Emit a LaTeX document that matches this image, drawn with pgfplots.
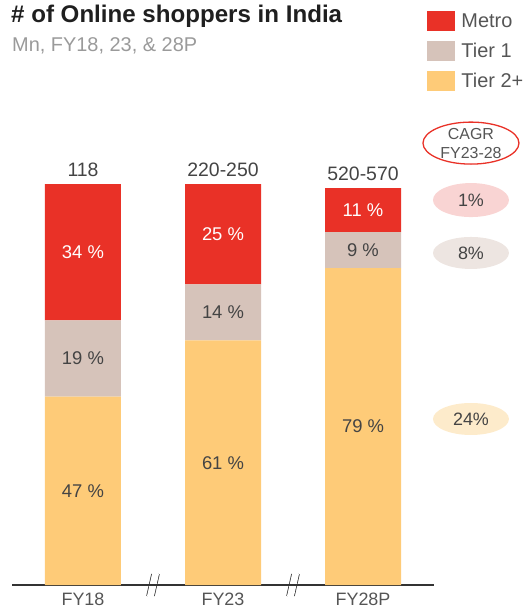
\documentclass[border=0pt]{standalone}
\usepackage{pgfplots}
\pgfplotsset{compat=1.18}
\usepackage{fontspec}
\setmainfont{Liberation Sans}
\definecolor{metro}{HTML}{E93127}
\definecolor{tierone}{HTML}{D6C3BA}
\definecolor{tiertwo}{HTML}{FECB78}
\definecolor{pinkfill}{HTML}{F9D4D3}
\definecolor{grayfill}{HTML}{EDE5E1}
\definecolor{peachfill}{HTML}{FDEBCB}
\definecolor{darktxt}{HTML}{444444}
\definecolor{midtxt}{HTML}{555555}
\definecolor{lighttxt}{HTML}{9A9A9A}
\definecolor{axisline}{HTML}{333333}
\newcommand{\fs}[1]{\fontsize{#1}{#1}\selectfont}
\begin{document}
\begin{tikzpicture}[x=1bp,y=1bp]
\useasboundingbox (0,0) rectangle (524,-611);
\node[anchor=north west, inner sep=0pt, font=\fs{24.2}\bfseries, text=black!88] at (11,-5) {\# of Online shoppers in India};
\node[anchor=north west, inner sep=0pt, font=\fs{20}, text=lighttxt] at (12,-37) {Mn, FY18, 23, \& 28P};
\begin{axis}[
  at={(12bp,-585bp)}, anchor=south west,
  scale only axis, width=422bp, height=401bp,
  xmin=-0.507, xmax=2.507, ymin=0, ymax=100,
  ybar stacked, bar width=76bp,
  clip=false,
  axis x line*=bottom, hide y axis,
  x axis line style={draw=none},
  xtick={0,1,2}, xticklabels={FY18,FY23,FY28P},
  major tick length=0pt,
  xticklabel style={font=\fs{18}, text=midtxt, yshift=-6.5bp, inner sep=1bp},
  legend style={at={(0.984,1.432)}, anchor=north west, draw=none, fill=none,
    font=\fs{20}, text=midtxt, row sep=10bp, inner sep=0pt,
    nodes={inner sep=2bp}},
  legend cell align=left, reverse legend,
  legend image code/.code={\fill[#1] (0bp,-10bp) rectangle (28bp,10bp);},
]
\addplot[fill=tiertwo, draw=none] coordinates {(0,47) (1,61) (2,79)};
\addlegendentry{\hspace{4bp}Tier 2+}
\addplot[fill=tierone, draw=none] coordinates {(0,19) (1,14) (2,9)};
\addlegendentry{\hspace{4bp}Tier 1}
\addplot[fill=metro, draw=none] coordinates {(0,34) (1,25) (2,11)};
\addlegendentry{\hspace{4bp}Metro}
% axis line
\draw[axisline, line width=1.5bp] (axis cs:-0.507,0) -- (axis cs:2.507,0);
% axis breaks
\fill[white] ([xshift=-6bp,yshift=-11bp]axis cs:0.5,0) -- ([xshift=-1bp,yshift=11bp]axis cs:0.5,0) -- ([xshift=6bp,yshift=11bp]axis cs:0.5,0) -- ([xshift=1bp,yshift=-11bp]axis cs:0.5,0) -- cycle;
\draw[axisline, line width=1.5bp] ([xshift=-6bp,yshift=-11bp]axis cs:0.5,0) -- ([xshift=-1bp,yshift=11bp]axis cs:0.5,0);
\draw[axisline, line width=1.5bp] ([xshift=1bp,yshift=-11bp]axis cs:0.5,0) -- ([xshift=6bp,yshift=11bp]axis cs:0.5,0);
\fill[white] ([xshift=-6bp,yshift=-11bp]axis cs:1.5,0) -- ([xshift=-1bp,yshift=11bp]axis cs:1.5,0) -- ([xshift=6bp,yshift=11bp]axis cs:1.5,0) -- ([xshift=1bp,yshift=-11bp]axis cs:1.5,0) -- cycle;
\draw[axisline, line width=1.5bp] ([xshift=-6bp,yshift=-11bp]axis cs:1.5,0) -- ([xshift=-1bp,yshift=11bp]axis cs:1.5,0);
\draw[axisline, line width=1.5bp] ([xshift=1bp,yshift=-11bp]axis cs:1.5,0) -- ([xshift=6bp,yshift=11bp]axis cs:1.5,0);
% CAGR
\draw[metro, line width=1.3bp] (axis cs:2.771,110.2) ellipse [x radius=48bp, y radius=21bp];
\fill[pinkfill] (axis cs:2.771,96) ellipse [x radius=38bp, y radius=17bp];
\fill[grayfill] (axis cs:2.771,82.8) ellipse [x radius=38bp, y radius=16bp];
\fill[peachfill] (axis cs:2.771,41.4) ellipse [x radius=38bp, y radius=16bp];
\coordinate (cg) at (axis cs:2.771,110.2);
\coordinate (c1) at (axis cs:2.771,96);
\coordinate (c2) at (axis cs:2.771,82.8);
\coordinate (c3) at (axis cs:2.771,41.4);
\coordinate (a3) at (axis cs:0,83);
\coordinate (a2) at (axis cs:0,56.5);
\coordinate (a1) at (axis cs:0,23.5);
\coordinate (b3) at (axis cs:1,87.5);
\coordinate (b2) at (axis cs:1,68);
\coordinate (b1) at (axis cs:1,30.5);
\coordinate (d3) at (axis cs:2,93.5);
\coordinate (d2) at (axis cs:2,83.5);
\coordinate (d1) at (axis cs:2,39.5);
\coordinate (ta) at (axis cs:0,100);
\coordinate (tb) at (axis cs:1,100);
\coordinate (td) at (axis cs:2,99);
\end{axis}
\node[font=\fs{16}, text=midtxt, align=center, inner sep=0pt] at (cg) {CAGR\\[3bp]FY23-28};
\node[font=\fs{18}, text=darktxt] at (c1) {1\%};
\node[font=\fs{18}, text=darktxt] at (c2) {8\%};
\node[font=\fs{18}, text=darktxt] at (c3) {24\%};
\node[font=\fs{18.5}, text=white] at (a3) {34 \%};
\node[font=\fs{18.5}, text=darktxt] at (a2) {19 \%};
\node[font=\fs{18.5}, text=darktxt] at (a1) {47 \%};
\node[font=\fs{18.5}, text=white] at (b3) {25 \%};
\node[font=\fs{18.5}, text=darktxt] at (b2) {14 \%};
\node[font=\fs{18.5}, text=darktxt] at (b1) {61 \%};
\node[font=\fs{18.5}, text=white] at (d3) {11 \%};
\node[font=\fs{18.5}, text=darktxt] at (d2) {9 \%};
\node[font=\fs{18.5}, text=darktxt] at (d1) {79 \%};
\node[font=\fs{19.5}, text=darktxt, yshift=14bp] at (ta) {118};
\node[font=\fs{19.5}, text=darktxt, yshift=14bp] at (tb) {220-250};
\node[font=\fs{19.5}, text=darktxt, yshift=14bp] at (td) {520-570};
\end{tikzpicture}
\end{document}
